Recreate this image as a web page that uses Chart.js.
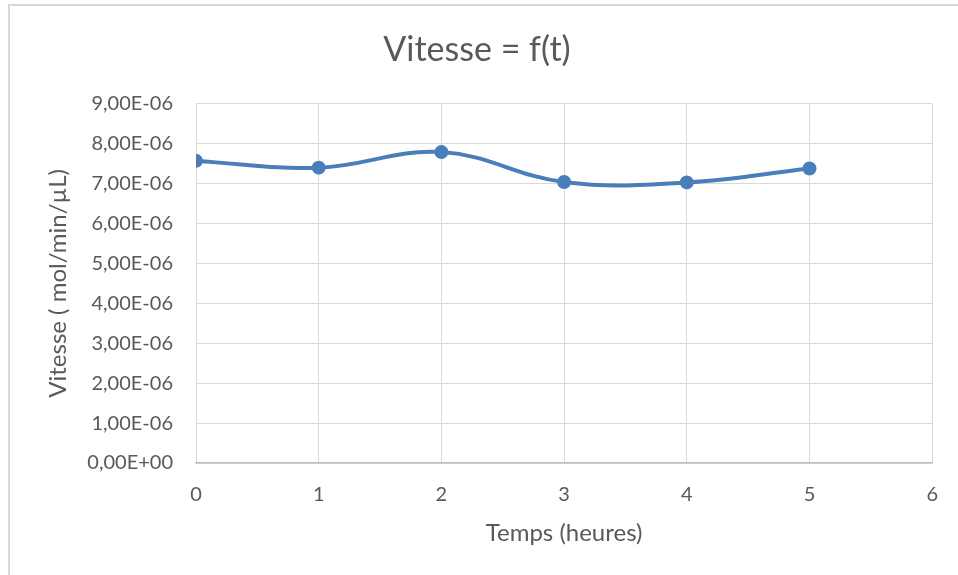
<!DOCTYPE html>
<html>
<head>
<meta charset="utf-8">
<script src="https://cdn.jsdelivr.net/npm/chart.js@4/dist/chart.umd.min.js"></script>
<style>
html,body{margin:0;padding:0;background:#fff;}
#wrap{position:relative;width:958px;height:575px;}
</style>
</head>
<body>
<div id="wrap"><canvas id="c" width="958" height="575"></canvas></div>
<script>
const chartTitle = "Vitesse = f(t)";
const xTitle = "Temps (heures)";
const yTitle = "Vitesse ( mol/min/µL)";
const times = [0, 1, 2, 3, 4, 5];
const speeds = [7.57e-6, 7.40e-6, 7.79e-6, 7.04e-6, 7.03e-6, 7.38e-6];
const xMin = 0, xMax = 6, xStep = 1;
const yMin = 0, yMax = 9e-6, yStep = 1e-6;

function sci(v) {
  if (Math.abs(v) < 1e-15) return "0,00E+00";
  let exp = Math.floor(Math.log10(Math.abs(v)) + 1e-9);
  let mant = (v / Math.pow(10, exp)).toFixed(2);
  if (mant === "10.00") { mant = "1.00"; exp += 1; }
  return mant.replace('.', ',') + 'E' + (exp < 0 ? '-' : '+') + String(Math.abs(exp)).padStart(2, '0');
}

const FONT = "Lato, 'Open Sans', sans-serif";
const TXT = '#595959';

const borderPlugin = {
  id: 'outerBorder',
  beforeDraw(chart) {
    const ctx = chart.ctx;
    ctx.save();
    ctx.fillStyle = '#fff';
    ctx.fillRect(0, 0, chart.width, chart.height);
    ctx.strokeStyle = '#d9d9d9';
    ctx.lineWidth = 2;
    ctx.beginPath();
    ctx.moveTo(9, chart.height);
    ctx.lineTo(9, 5);
    ctx.lineTo(chart.width, 5);
    ctx.stroke();
    ctx.restore();
  }
};

new Chart(document.getElementById('c'), {
  type: 'scatter',
  data: {
    datasets: [{
      data: times.map((t, i) => ({ x: t, y: speeds[i] })),
      showLine: true,
      borderColor: '#4a7ebb',
      backgroundColor: '#4a7ebb',
      borderWidth: 4,
      pointRadius: 7,
      pointHoverRadius: 7,
      pointBorderWidth: 0,
      tension: 0.4
    }]
  },
  options: {
    responsive: false,
    animation: false,
    layout: { padding: { left: 18, right: 22, top: 0, bottom: 0 } },
    plugins: {
      legend: { display: false },
      tooltip: { enabled: false },
      title: {
        display: true,
        text: chartTitle,
        color: TXT,
        font: { family: FONT, size: 34, weight: 'normal' },
        padding: { top: 30, bottom: 33 }
      }
    },
    scales: {
      x: {
        type: 'linear',
        min: xMin, max: xMax,
        afterFit(s) { s.height = 575 - 463; },
        ticks: { stepSize: xStep, color: TXT, font: { family: FONT, size: 20 }, padding: 20, maxRotation: 0 },
        grid: { color: '#d9d9d9', lineWidth: 1, drawTicks: false },
        border: { color: '#bfbfbf', width: 1.5 },
        title: { display: true, text: xTitle, color: TXT, font: { family: FONT, size: 24 }, padding: { top: 4, bottom: 27 } }
      },
      y: {
        type: 'linear',
        min: yMin, max: yMax,
        afterFit(s) { s.width = 196 - 18; },
        ticks: { stepSize: yStep, color: TXT, font: { family: FONT, size: 20 }, padding: 23, callback: v => sci(v) },
        grid: { color: '#d9d9d9', lineWidth: 1, drawTicks: false },
        border: { display: false },
        title: { display: true, text: yTitle, color: TXT, font: { family: FONT, size: 24 }, padding: { top: 26, bottom: 4 } }
      }
    }
  },
  plugins: [borderPlugin]
});
</script>
</body>
</html>
